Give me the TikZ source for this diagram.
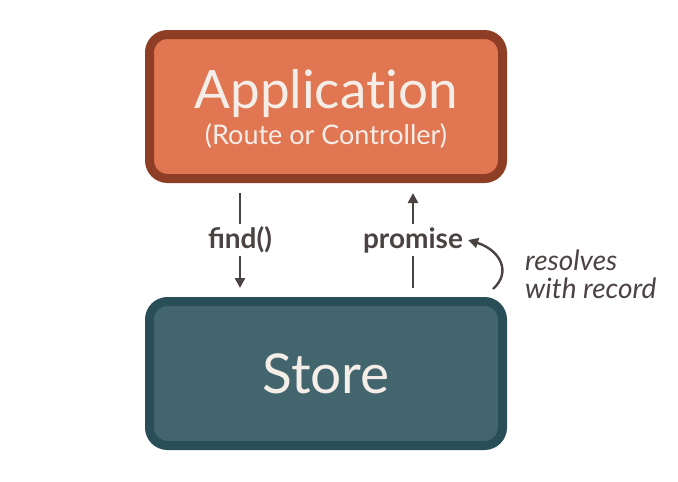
\documentclass[tikz,border=0pt]{standalone}
\usepackage{fontspec}
\setmainfont{Lato}
\usetikzlibrary{arrows.meta, positioning}
\definecolor{appfill}{HTML}{E07652}
\definecolor{appdraw}{HTML}{8E3E24}
\definecolor{storefill}{HTML}{43666E}
\definecolor{storedraw}{HTML}{2A4E57}
\definecolor{inktext}{HTML}{F5EEE8}
\definecolor{inkgray}{HTML}{4B4242}

\begin{document}
\begin{tikzpicture}[
    x=1pt, y=-1pt,
    box/.style={rounded corners=18pt, line width=9pt, minimum width=353pt, minimum height=144pt, text=inktext, align=center, inner sep=0pt, font=\addfontfeatures{Ligatures=NoCommon}},
    app/.style={box, fill=appfill, draw=appdraw},
    store/.style={box, fill=storefill, draw=storedraw},
    arr/.style={-{Triangle[length=10pt, width=10pt]}, line width=2.4pt, inkgray},
    lbl/.style={font=\fontsize{28}{30}\selectfont\bfseries, text=inkgray, fill=white, inner sep=3pt},
]
\useasboundingbox (0,0) rectangle (678,482);

\node[app, text depth=-6pt] (app) at (326,106.5) {{\fontsize{53}{56}\selectfont Application}\\[5pt]
    {\fontsize{27}{30}\selectfont (Route or Controller)}};
\node[store] (store) at (326,373.5) {\fontsize{55}{58}\selectfont Store};

% find() goes down, promise comes back up
\draw[arr, shorten <=10pt, shorten >=9pt] (app.south -| 240,0) -- node[lbl] (find) {find()} (store.north -| 240,0);
\draw[arr, shorten <=9pt, shorten >=10pt] (store.north -| 413,0) -- node[lbl] (promise) {promise} (app.south -| 413,0);

\coordinate (resolve) at (493,289);
\draw[arr] (resolve) .. controls (512,272) and (500,250) .. ([xshift=1pt]promise.east);
\node[anchor=west, align=left, text=inkgray, inner sep=0pt, font=\fontsize{28}{28}\selectfont\itshape] (note) at (525,274) {resolves\\with record};
\end{tikzpicture}
\end{document}
